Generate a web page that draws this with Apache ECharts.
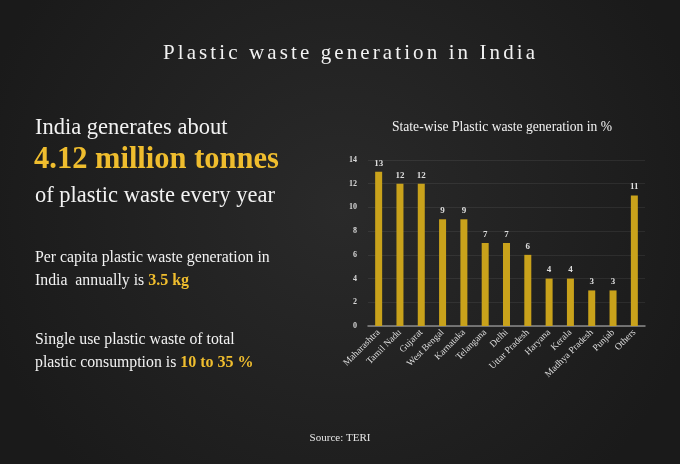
<!DOCTYPE html>
<html>
<head>
    <meta charset="utf-8">
    <title>Plastic waste generation in India</title>
    <script src="https://cdn.jsdelivr.net/npm/echarts@6/dist/echarts.min.js"></script>
    <style>
        html, body { margin: 0; padding: 0; background: #222; }
    </style>
</head>
<body>
<div id="chart" style="width: 680px; height: 464px;"></div>
<script>
    // data
    var states = ['Maharashtra', 'Tamil Nadu', 'Gujarat', 'West Bengal', 'Karnataka', 'Telangana',
        'Delhi', 'Uttar Pradesh', 'Haryana', 'Kerala', 'Madhya Pradesh', 'Punjab', 'Others'];
    var shares = [13, 12, 12, 9, 9, 7, 7, 6, 4, 4, 3, 3, 11];
    var yTicks = [0, 2, 4, 6, 8, 10, 12, 14];

    var serif = '"Liberation Serif", "DejaVu Serif", serif';
    var gold = '#efbd2e';
    var barGold = '#c9a21b';

    var myChart = echarts.init(document.getElementById('chart'));

    // title with letter spacing: one text per character
    var titleText = 'Plastic waste generation in India';
    var titleFont = '21px ' + serif;
    var ctx = document.createElement('canvas').getContext('2d');
    ctx.font = titleFont;
    var spacing = 3.1;
    var widths = titleText.split('').map(function (c) { return ctx.measureText(c).width; });
    var total = widths.reduce(function (a, b) { return a + b; }, 0) + spacing * (titleText.length - 1);
    var tx = 349 - total / 2;
    var titleChars = [];
    titleText.split('').forEach(function (c, i) {
        titleChars.push({
            type: 'text', x: tx, y: 53,
            style: { text: c, fill: '#f2f2f2', font: titleFont, textVerticalAlign: 'middle' }
        });
        tx += widths[i] + spacing;
    });

    var option = {
        backgroundColor: {
            type: 'radial', x: 0.5, y: 0.45, r: 0.8,
            colorStops: [{ offset: 0, color: '#2a2a2a' }, { offset: 1, color: '#1a1a1a' }]
        },
        graphic: [
            { type: 'group', children: titleChars },
            {
                type: 'text', left: 35, top: 117,
                style: { text: 'India generates about', fill: '#f2f2f2', font: '22.5px ' + serif }
            },
            {
                type: 'text', left: 34, top: 145,
                style: { text: '4.12 million tonnes', fill: gold, font: 'bold 30.5px ' + serif }
            },
            {
                type: 'text', left: 35, top: 185,
                style: { text: 'of plastic waste every year', fill: '#f2f2f2', font: '22.5px ' + serif }
            },
            {
                type: 'text', left: 35, top: 246,
                style: {
                    text: 'Per capita plastic waste generation in\n{w|India  annually is }{g|3.5 kg}',
                    fill: '#f2f2f2', font: '15.8px ' + serif, lineHeight: 23,
                    rich: {
                        w: { fill: '#f2f2f2', font: '15.8px ' + serif, lineHeight: 23 },
                        g: { fill: gold, font: 'bold 16px ' + serif, lineHeight: 23 }
                    }
                }
            },
            {
                type: 'text', left: 35, top: 328,
                style: {
                    text: 'Single use plastic waste of total\n{w|plastic consumption is }{g|10 to 35 %}',
                    fill: '#f2f2f2', font: '15.8px ' + serif, lineHeight: 23,
                    rich: {
                        w: { fill: '#f2f2f2', font: '15.8px ' + serif, lineHeight: 23 },
                        g: { fill: gold, font: 'bold 16px ' + serif, lineHeight: 23 }
                    }
                }
            },
            {
                type: 'text', x: 502, y: 127,
                style: {
                    text: 'State-wise Plastic waste generation in %', fill: '#f2f2f2',
                    font: '13.6px ' + serif, textAlign: 'center', textVerticalAlign: 'middle'
                }
            },
            {
                type: 'text', x: 340, y: 438,
                style: {
                    text: 'Source: TERI', fill: '#e6e6e6', font: '11px ' + serif,
                    textAlign: 'center', textVerticalAlign: 'middle'
                }
            }
        ],
        grid: { left: 368, right: 35, top: 160, bottom: 138 },
        xAxis: {
            type: 'category',
            data: states,
            axisLine: { lineStyle: { color: '#8a8a8a', width: 1.5 } },
            axisTick: { show: false },
            axisLabel: {
                interval: 0, rotate: 45, margin: 5,
                color: '#dcdcdc', fontFamily: serif, fontSize: 9.5
            }
        },
        yAxis: {
            type: 'value',
            min: yTicks[0], max: yTicks[yTicks.length - 1], interval: 2,
            axisLine: { show: false },
            axisTick: { show: false },
            splitLine: { lineStyle: { color: 'rgba(255,255,255,0.07)' } },
            axisLabel: { color: '#d8d8d8', fontFamily: serif, fontSize: 8, fontWeight: 'bold', margin: 11 }
        },
        series: [{
            type: 'bar',
            data: shares,
            barWidth: 7,
            itemStyle: { color: barGold },
            label: {
                show: true, position: 'top', distance: 4,
                color: '#dedede', fontFamily: serif, fontSize: 9, fontWeight: 'bold'
            }
        }]
    };

    myChart.setOption(option);
</script>
</body>
</html>
